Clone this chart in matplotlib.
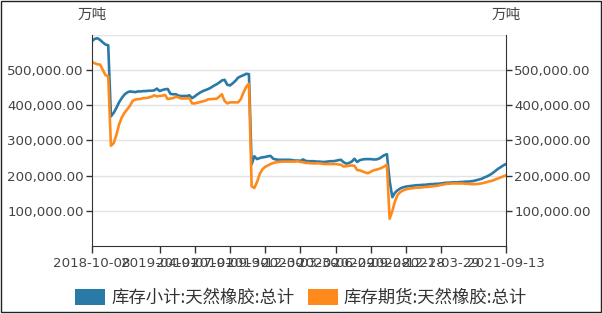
import matplotlib
matplotlib.use("Agg")
import matplotlib.pyplot as plt
import matplotlib.ticker as mticker
from matplotlib.patches import Patch, Rectangle
import numpy as np
import pandas as pd

# 周度日期 (2018-10-08 ~ 2021-09-13)
dates = pd.date_range("2018-10-08", "2021-09-13", freq="7D")

# 库存小计:天然橡胶:总计 (千吨 -> 乘1000)
stock_total = [
    582, 588, 590, 585, 578, 572, 570, 368, 378, 392,
    408, 420, 430, 436, 439, 438, 437, 439, 439, 440,
    440, 441, 441, 442, 447, 440, 443, 445, 446, 432,
    431, 431, 427, 426, 426, 426, 428, 420, 425, 431,
    436, 440, 443, 446, 450, 455, 459, 464, 470, 472,
    458, 456, 462, 469, 478, 482, 485, 489, 488, 232,
    255, 247, 250, 252, 253, 255, 256, 248, 246, 245,
    245, 245, 245, 245, 244, 243, 243, 242, 246, 242,
    241, 241, 241, 240, 240, 239, 239, 240, 241, 241,
    242, 244, 245, 238, 234, 236, 240, 248, 239, 244,
    246, 247, 247, 247, 246, 246, 248, 253, 258, 261,
    185, 139, 152, 159, 164, 167, 169, 170, 171, 172,
    173, 173, 174, 174, 175, 176, 176, 177, 177, 178,
    179, 180, 180, 181, 181, 181, 182, 182, 183, 183,
    184, 185, 187, 189, 191, 195, 198, 202, 207, 213,
    219, 224, 229, 233,
]

# 库存期货:天然橡胶:总计
stock_futures = [
    522, 519, 516, 515, 500, 485, 482, 285, 292, 315,
    345, 365, 378, 388, 398, 412, 416, 417, 418, 420,
    420, 422, 424, 428, 425, 426, 427, 429, 417, 419,
    420, 424, 422, 419, 419, 419, 420, 405, 405, 407,
    409, 411, 413, 417, 417, 418, 418, 424, 431, 412,
    405, 408, 408, 408, 408, 417, 436, 452, 461, 170,
    165, 182, 205, 218, 225, 229, 233, 236, 238, 239,
    240, 240, 240, 240, 240, 240, 241, 239, 238, 236,
    236, 235, 235, 235, 235, 234, 233, 233, 233, 233,
    233, 232, 231, 226, 227, 228, 229, 228, 216, 215,
    212, 209, 207, 211, 215, 217, 219, 222, 226, 231,
    78, 100, 128, 146, 154, 158, 161, 163, 164, 165,
    166, 166, 167, 168, 168, 169, 170, 171, 172, 174,
    175, 177, 177, 178, 178, 178, 178, 178, 177, 177,
    176, 176, 176, 177, 178, 180, 182, 184, 186, 189,
    192, 195, 198, 201,
]

series_names = ["库存小计:天然橡胶:总计", "库存期货:天然橡胶:总计"]
colors = ["#2a7aa8", "#ff8a1c"]
tick_idx = [0, 25, 38, 51, 64, 77, 90, 103, 116, 129, 153]
y_ticks = [100000, 200000, 300000, 400000, 500000]
unit = "万吨"

cjk = ["Noto Sans CJK SC", "DejaVu Sans"]
txt_color = "#444444"
axis_color = "#333333"

fig = plt.figure(figsize=(6.02, 3.14), dpi=100)
ax = fig.add_axes([0.1528, 0.216, 0.6877, 0.6736])
ax2 = ax.twinx()

for vals, c in zip([stock_total, stock_futures], colors):
    ax.plot(dates, np.array(vals) * 1000, color=c, lw=1.9, solid_joinstyle="round")

ax.set_xlim(dates[0], dates[-1])
for a in (ax, ax2):
    a.set_ylim(0, 600000)
    a.set_yticks(y_ticks)
    a.yaxis.set_major_formatter(mticker.StrMethodFormatter("{x:,.2f}"))
    a.tick_params(axis="y", length=4, width=1, color=axis_color,
                  labelsize=9.6, labelcolor=txt_color, pad=2)
    for s in ("top",):
        a.spines[s].set_visible(False)
ax.spines["right"].set_visible(False)
ax2.spines["left"].set_visible(False)
ax2.spines["bottom"].set_visible(False)
ax.spines["left"].set_color(axis_color)
ax.spines["bottom"].set_color(axis_color)
ax2.spines["right"].set_color(axis_color)

# 网格线
for v in y_ticks + [600000]:
    ax.axhline(v, color="#e3e3e3", lw=1, zorder=0)

ax.set_xticks(dates[tick_idx])
ax.set_xticklabels([dates[i].strftime("%Y-%m-%d") for i in tick_idx])
ax.tick_params(axis="x", length=5, width=1, color=axis_color,
               labelsize=9.6, labelcolor=txt_color, pad=3)

fig.text(92 / 602, 1 - 15 / 314, unit, ha="center", va="center",
         fontsize=10.5, color=txt_color, family=cjk)
fig.text(506 / 602, 1 - 15 / 314, unit, ha="center", va="center",
         fontsize=10.5, color=txt_color, family=cjk)

handles = [Patch(facecolor=c, edgecolor="none") for c in colors]
fig.legend(handles, series_names, loc="center", bbox_to_anchor=(0.5, 1 - 298 / 314),
           ncol=2, frameon=False, prop={"family": cjk, "size": 12.5},
           handlelength=1.75, handleheight=1.0, handletextpad=0.35,
           columnspacing=0.75, labelcolor="#333333")

# 外框
fig.patches.append(Rectangle((0.5 / 602, 2 / 314), 600 / 602, 311 / 314,
                             transform=fig.transFigure, fill=False,
                             edgecolor="#222222", lw=1))

fig.savefig("out.png", dpi=100)
